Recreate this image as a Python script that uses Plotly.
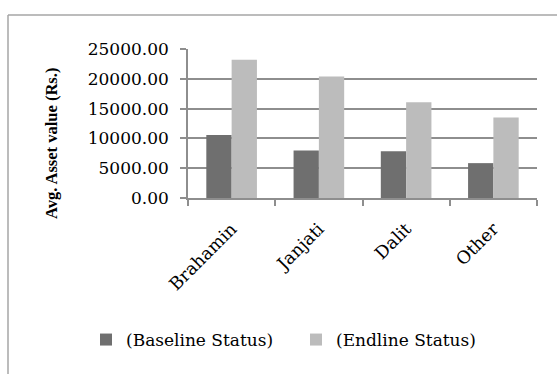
import plotly.graph_objects as go

# Average household asset value by caste group, before and after the programme
groups = ["Brahamin", "Janjati", "Dalit", "Other"]
baseline = [10550, 7950, 7850, 5850]
endline = [23200, 20400, 16050, 13500]
series_names = ["(Baseline Status)", "(Endline Status)"]
y_ticks = [0, 5000, 10000, 15000, 20000, 25000]

W, H = 557, 374
L, R, T, B = 188, 20, 49, 176
pw, ph = W - L - R, H - T - B


def px_x(x):
    return (x - L) / pw


def px_y(y):
    return (H - B - y) / ph


FONT = "DejaVu Serif"
GRID = "#8e8e8e"

fig = go.Figure()
fig.add_trace(go.Bar(x=groups, y=baseline, name=series_names[0],
                     marker=dict(color="#6f6f6f", line=dict(width=0))))
fig.add_trace(go.Bar(x=groups, y=endline, name=series_names[1],
                     marker=dict(color="#bcbcbc", line=dict(width=0))))

fig.update_layout(
    width=W, height=H,
    margin=dict(l=L, r=R, t=T, b=B, pad=0, autoexpand=False),
    paper_bgcolor="white", plot_bgcolor="white",
    barmode="group", bargap=0.42, bargroupgap=0,
    font=dict(family=FONT, size=17, color="#000000"),
    showlegend=True,
    legend=dict(orientation="h", x=px_x(86), xanchor="left",
                y=px_y(340), yanchor="middle",
                font=dict(family=FONT, size=17),
                itemwidth=30, tracegroupgap=0, entrywidth=165,
                entrywidthmode="pixels", bgcolor="rgba(0,0,0,0)"),
)

fig.update_yaxes(
    range=[0, 25000], tickvals=y_ticks, tickformat=".2f",
    showgrid=True, gridcolor=GRID, gridwidth=1.5,
    showline=True, linecolor=GRID, linewidth=1.5,
    ticks="outside", ticklen=6, tickcolor=GRID, tickwidth=1.5,
    ticklabelstandoff=8, zeroline=False,
    tickfont=dict(family=FONT, size=17),
)
fig.update_xaxes(
    type="category", tickangle=-45, tickson="boundaries",
    showline=True, linecolor=GRID, linewidth=1.5,
    ticks="outside", ticklen=6, tickcolor=GRID, tickwidth=1.5,
    ticklabelstandoff=12,
    showgrid=False, tickfont=dict(family=FONT, size=17.5),
)

# y-axis title
fig.add_annotation(
    text="<b>Avg. Asset value (Rs.)</b>", textangle=-90,
    xref="paper", yref="paper", x=px_x(51), y=px_y(144),
    xanchor="center", yanchor="middle", showarrow=False,
    font=dict(family="Liberation Serif", size=16.5, color="#000000"),
)

# outer chart frame (top and left edges)
fig.add_shape(type="line", xref="paper", yref="paper",
              x0=px_x(8), x1=px_x(580), y0=px_y(15), y1=px_y(15),
              line=dict(color="#a6a6a6", width=1.5))
fig.add_shape(type="line", xref="paper", yref="paper",
              x0=px_x(8), x1=px_x(8), y0=px_y(15), y1=px_y(400),
              line=dict(color="#a6a6a6", width=1.5))

fig.write_html("out.html")
